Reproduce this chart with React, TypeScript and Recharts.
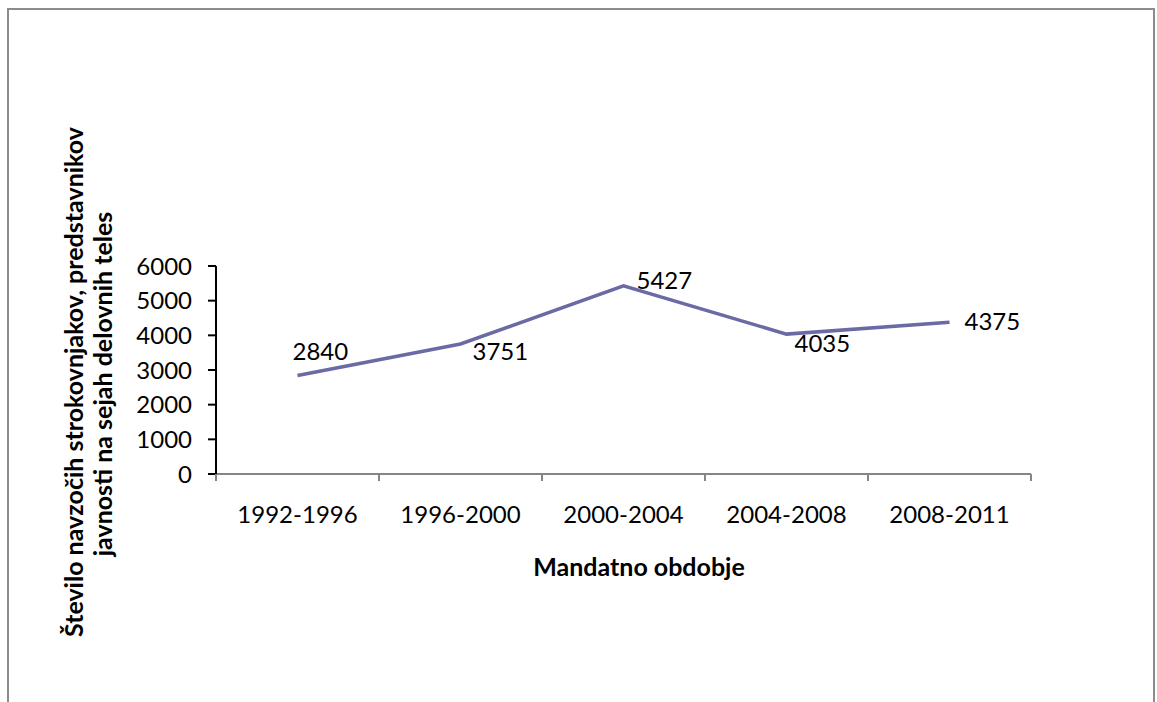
import React from 'react'
import { LineChart, Line, XAxis, YAxis, LabelList } from 'recharts'

// mandatna obdobja in število navzočih
const periods = ['1992-1996', '1996-2000', '2000-2004', '2004-2008', '2008-2011']
const attendees = [2840, 3751, 5427, 4035, 4375]
const yTicks = [0, 1000, 2000, 3000, 4000, 5000, 6000]
// cela števila so meje obdobij (zareze), polovice so sredine (napisi)
const xTicks = [0, 0.5, 1, 1.5, 2, 2.5, 3, 3.5, 4, 4.5, 5]

// odmik oznake od točke: [dx do začetka besedila, dy do osnovne črte]
const labelOffsets = [
  [-5, -16],
  [12, 16],
  [13, 3],
  [8, 18],
  [15, 8],
]

const FONT = 'Lato, "Open Sans", sans-serif'
const LINE_COLOR = '#6a6aa4'
const AXIS_GREY = '#868686'

const data = periods.map((period, i) => ({
  period,
  idx: i + 0.5,
  value: attendees[i],
}))

// eslint-disable-next-line @typescript-eslint/no-explicit-any
const PeriodTick = (props: any) => {
  const { x, y, payload } = props
  const v = payload.value as number
  if (Number.isInteger(v)) {
    return <line x1={x} x2={x} y1={y} y2={y + 7} stroke={AXIS_GREY} strokeWidth={2} />
  }
  return (
    <text x={x} y={y + 49} textAnchor="middle" fontSize={24} fontFamily={FONT} fill="#000">
      {periods[Math.floor(v)]}
    </text>
  )
}

// eslint-disable-next-line @typescript-eslint/no-explicit-any
const PointLabel = (props: any) => {
  const { x, y, value, index } = props
  const [dx, dy] = labelOffsets[index] || [10, 0]
  return (
    <text x={x + dx} y={y + dy} fontSize={24} fontFamily={FONT} fill="#000">
      {value}
    </text>
  )
}

export default function App() {
  return (
    <div style={{ position: 'fixed', left: 0, top: 0, width: 1157, height: 702, overflow: 'hidden', background: '#fff' }}>
      <div
        style={{
          position: 'absolute',
          left: 7,
          top: 8,
          width: 1148,
          height: 760,
          border: '2px solid #8c8c8c',
          boxSizing: 'border-box',
        }}
      />
      <div style={{ position: 'absolute', left: 0, top: 0 }}>
        <LineChart
          width={1157}
          height={702}
          data={data}
          margin={{ top: 266, right: 126, left: 156, bottom: 168 }}
        >
          <XAxis
            type="number"
            dataKey="idx"
            domain={[0, 5]}
            ticks={xTicks}
            interval={0}
            tickSize={0}
            tickMargin={0}
            height={60}
            axisLine={{ stroke: AXIS_GREY, strokeWidth: 2 }}
            tickLine={false}
            tick={<PeriodTick />}
          />
          <YAxis
            type="number"
            domain={[0, 6000]}
            ticks={yTicks}
            interval={0}
            width={60}
            tickSize={8}
            tickMargin={16}
            axisLine={{ stroke: '#000', strokeWidth: 2 }}
            tickLine={{ stroke: '#000', strokeWidth: 2 }}
            tick={{ fontSize: 24, fontFamily: FONT, fill: '#000' }}
          />
          <Line
            type="linear"
            dataKey="value"
            stroke={LINE_COLOR}
            strokeWidth={3.5}
            dot={false}
            activeDot={false}
            isAnimationActive={false}
          >
            <LabelList dataKey="value" content={<PointLabel />} />
          </Line>
          <text x={639} y={576} textAnchor="middle" fontSize={25} fontWeight="bold" fontFamily={FONT} fill="#000">
            Mandatno obdobje
          </text>
          <text
            x={83}
            y={382}
            transform="rotate(-90, 83, 382)"
            textAnchor="middle"
            fontSize={25}
            fontWeight="bold"
            fontFamily={FONT}
            fill="#000"
          >
            Število navzočih strokovnjakov, predstavnikov
          </text>
          <text
            x={112}
            y={384}
            transform="rotate(-90, 112, 384)"
            textAnchor="middle"
            fontSize={25}
            fontWeight="bold"
            fontFamily={FONT}
            fill="#000"
          >
            javnosti na sejah delovnih teles
          </text>
        </LineChart>
      </div>
    </div>
  )
}
